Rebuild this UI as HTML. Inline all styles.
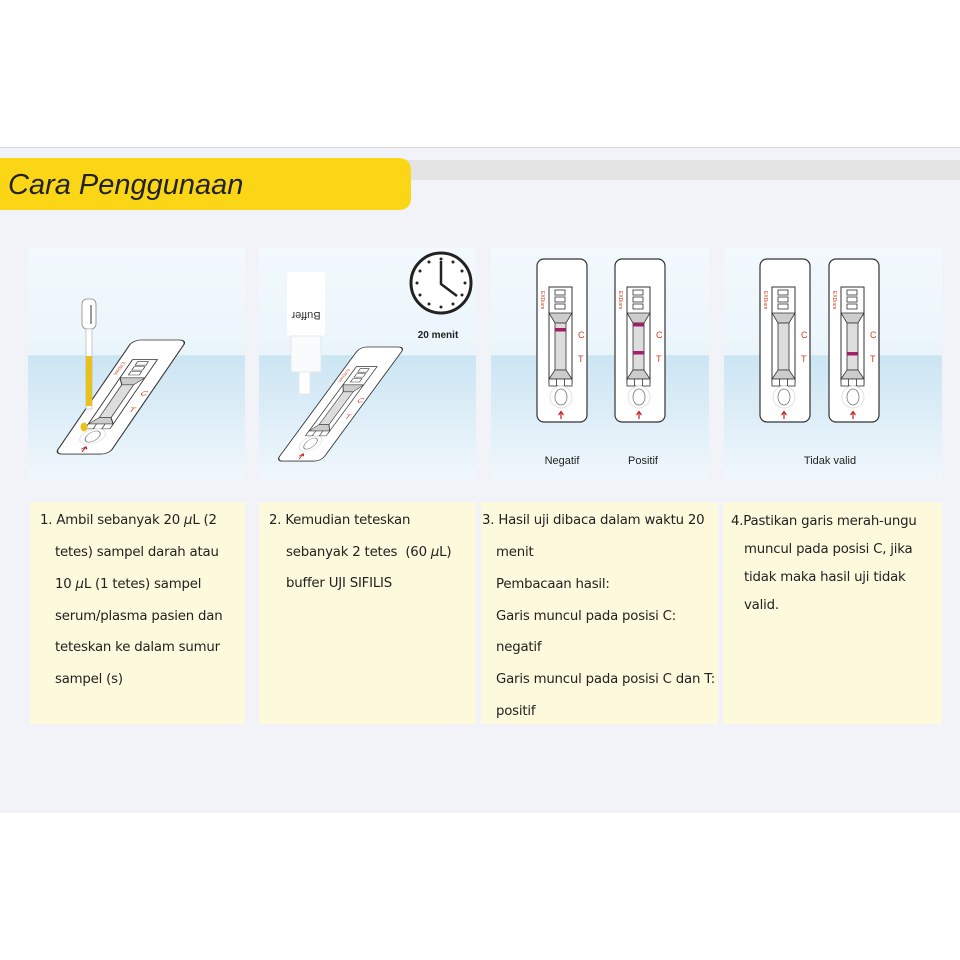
<!DOCTYPE html>
<html><head><meta charset="utf-8"><style>
*{margin:0;padding:0}
body{width:960px;height:960px;background:#fff;position:relative;overflow:hidden;font-family:"Liberation Sans",sans-serif}
.bg{position:absolute;left:0;top:147px;width:960px;height:665px;background:#f1f3f8;border-top:1px solid #d8d8d8}
.tb{position:absolute;top:502px;height:222px;background:#fdf9dc;font-family:"DejaVu Sans","Liberation Sans",sans-serif;font-size:13.3px;color:#222;letter-spacing:-0.2px}
.tb div{position:absolute;white-space:nowrap}
</style></head><body>
<div class="bg"></div>
<svg width="960" height="960" style="position:absolute;left:0;top:0" xmlns="http://www.w3.org/2000/svg">
<defs>
<linearGradient id="sky" x1="0" y1="0" x2="0" y2="1">
<stop offset="0" stop-color="#f3f9fd"/><stop offset="0.46" stop-color="#eaf5fb"/>
<stop offset="0.465" stop-color="#cce5f3"/><stop offset="1" stop-color="#f0f7fc"/>
</linearGradient>
<g id="card">
<rect x="0" y="0" width="50" height="163" rx="7" fill="#fff" stroke="#333" stroke-width="1.2"/>
<rect x="12" y="28" width="23" height="96" fill="#fff" stroke="#333" stroke-width="1"/>
<rect x="18" y="31" width="10" height="5" fill="none" stroke="#333" stroke-width="0.8"/>
<rect x="18" y="38" width="10" height="5" fill="none" stroke="#333" stroke-width="0.8"/>
<rect x="18" y="45" width="10" height="5" fill="none" stroke="#333" stroke-width="0.8"/>
<polygon points="12,54 35,54 29,64 18,64" fill="#ccc" stroke="#333" stroke-width="0.8"/>
<rect x="18" y="64" width="11" height="47" fill="#ddd" stroke="#333" stroke-width="0.8"/>
<polygon points="18,111 29,111 35,120 12,120" fill="#ccc" stroke="#333" stroke-width="0.8"/>
<rect x="12" y="120" width="23" height="7" fill="#fff" stroke="#333" stroke-width="0.8"/>
<line x1="19.5" y1="120" x2="19.5" y2="127" stroke="#333" stroke-width="0.8"/>
<line x1="27.5" y1="120" x2="27.5" y2="127" stroke="#333" stroke-width="0.8"/>
<text x="41" y="79" font-size="9" fill="#d04020" font-family="Liberation Sans">C</text>
<text x="41" y="103" font-size="9" fill="#d04020" font-family="Liberation Sans">T</text>
<text transform="translate(4,32) rotate(90)" font-size="5" fill="#d04020" font-family="Liberation Sans">EXDiam</text>
<circle cx="24" cy="138" r="11" fill="none" stroke="#e2e2e2"/>
<ellipse cx="24" cy="138" rx="6" ry="8" fill="#fff" stroke="#777" stroke-width="0.8"/>
<path d="M24,160 L24,153 M21.5,156 L24,152.5 L26.5,156" stroke="#c02020" stroke-width="1.2" fill="none"/>
</g>
</defs>
<rect x="395" y="160" width="565" height="20" fill="#e4e4e4"/>
<path d="M0,158 H398 Q411,158 411,171 V198 Q411,210 398,210 H0 Z" fill="#fbd616"/>
<text x="8" y="194" font-size="29" font-style="italic" fill="#222" font-family="Liberation Sans">Cara Penggunaan</text>
<rect x="28" y="248" width="217" height="232" fill="url(#sky)"/>
<rect x="259" y="248" width="217" height="232" fill="url(#sky)"/>
<rect x="491" y="248" width="218" height="232" fill="url(#sky)"/>
<rect x="724" y="248" width="218" height="232" fill="url(#sky)"/>
<use href="#card" transform="matrix(1.08,0,-0.48,0.7,133,340)"/>
<rect x="82" y="299" width="14" height="30" rx="5" fill="#fff" stroke="#888" stroke-width="0.8"/>
<line x1="91" y1="305" x2="91" y2="324" stroke="#333"/>
<rect x="86" y="329" width="6" height="80" fill="#fff" stroke="#aaa" stroke-width="0.6"/>
<rect x="86" y="356" width="6" height="50" fill="#e8c21a"/>
<ellipse cx="84" cy="427" rx="3.5" ry="4.5" fill="#e8c21a"/>
<use href="#card" transform="matrix(0.9,0,-0.515,0.7,360,347)"/>
<rect x="287" y="272" width="38" height="64" rx="3" fill="#fff"/>
<text transform="translate(306,312) rotate(180)" text-anchor="middle" font-size="11" fill="#333" font-family="Liberation Sans">Buffer</text>
<rect x="291" y="336" width="30" height="36" fill="#f9fbfc" stroke="#e0e8ee"/>
<rect x="299" y="372" width="11" height="22" fill="#fff" stroke="#e0e8ee"/>
<circle cx="441" cy="283" r="30" fill="#fff" stroke="#222" stroke-width="3"/>
<g fill="#222">
<circle cx="441" cy="259" r="1.5"/><circle cx="453" cy="262" r="1.5"/><circle cx="462" cy="271" r="1.5"/><circle cx="465" cy="283" r="1.5"/><circle cx="462" cy="295" r="1.5"/><circle cx="453" cy="304" r="1.5"/><circle cx="441" cy="307" r="1.5"/><circle cx="429" cy="304" r="1.5"/><circle cx="420" cy="295" r="1.5"/><circle cx="417" cy="283" r="1.5"/><circle cx="420" cy="271" r="1.5"/><circle cx="429" cy="262" r="1.5"/>
</g>
<path d="M441,261 V284 L457,296" stroke="#222" stroke-width="2.5" fill="none"/>
<text x="438" y="338" text-anchor="middle" font-size="10" font-weight="bold" fill="#222" font-family="Liberation Sans">20 menit</text>
<use href="#card" transform="translate(537,259)"/>
<rect x="555" y="328" width="11" height="3.5" fill="#a0206a"/>
<use href="#card" transform="translate(615,259)"/>
<rect x="633" y="323" width="11" height="3.5" fill="#a0206a"/>
<rect x="633" y="351" width="11" height="3.5" fill="#a0206a"/>
<text x="562" y="464" text-anchor="middle" font-size="11" fill="#222" font-family="Liberation Sans">Negatif</text>
<text x="643" y="464" text-anchor="middle" font-size="11" fill="#222" font-family="Liberation Sans">Positif</text>
<use href="#card" transform="translate(760,259)"/>
<use href="#card" transform="translate(829,259)"/>
<rect x="847" y="352" width="11" height="3.5" fill="#a0206a"/>
<text x="830" y="464" text-anchor="middle" font-size="11" fill="#222" font-family="Liberation Sans">Tidak valid</text>
</svg>
<div class="tb" style="left:30px;width:215px">
<div style="left:10px;top:11px">1. Ambil sebanyak 20 <i>μ</i>L (2</div>
<div style="left:25px;top:43px">tetes) sampel darah atau</div>
<div style="left:25px;top:75px">10 <i>μ</i>L (1 tetes) sampel</div>
<div style="left:25px;top:107px">serum/plasma pasien dan</div>
<div style="left:25px;top:138px">teteskan ke dalam sumur</div>
<div style="left:25px;top:170px">sampel (s)</div>
</div>
<div class="tb" style="left:259px;width:217px">
<div style="left:10px;top:11px">2. Kemudian teteskan</div>
<div style="left:27px;top:43px">sebanyak 2 tetes &nbsp;(60 <i>μ</i>L)</div>
<div style="left:27px;top:74px">buffer UJI SIFILIS</div>
</div>
<div class="tb" style="left:481px;width:237px">
<div style="left:1px;top:11px">3. Hasil uji dibaca dalam waktu 20</div>
<div style="left:15px;top:43px">menit</div>
<div style="left:15px;top:75px">Pembacaan hasil:</div>
<div style="left:15px;top:107px">Garis muncul pada posisi C:</div>
<div style="left:15px;top:138px">negatif</div>
<div style="left:15px;top:170px">Garis muncul pada posisi C dan T:</div>
<div style="left:15px;top:202px">positif</div>
</div>
<div class="tb" style="left:723px;width:219px">
<div style="left:8px;top:12px">4.Pastikan garis merah-ungu</div>
<div style="left:21px;top:40px">muncul pada posisi C, jika</div>
<div style="left:21px;top:68px">tidak maka hasil uji tidak</div>
<div style="left:21px;top:96px">valid.</div>
</div>
</body></html>
